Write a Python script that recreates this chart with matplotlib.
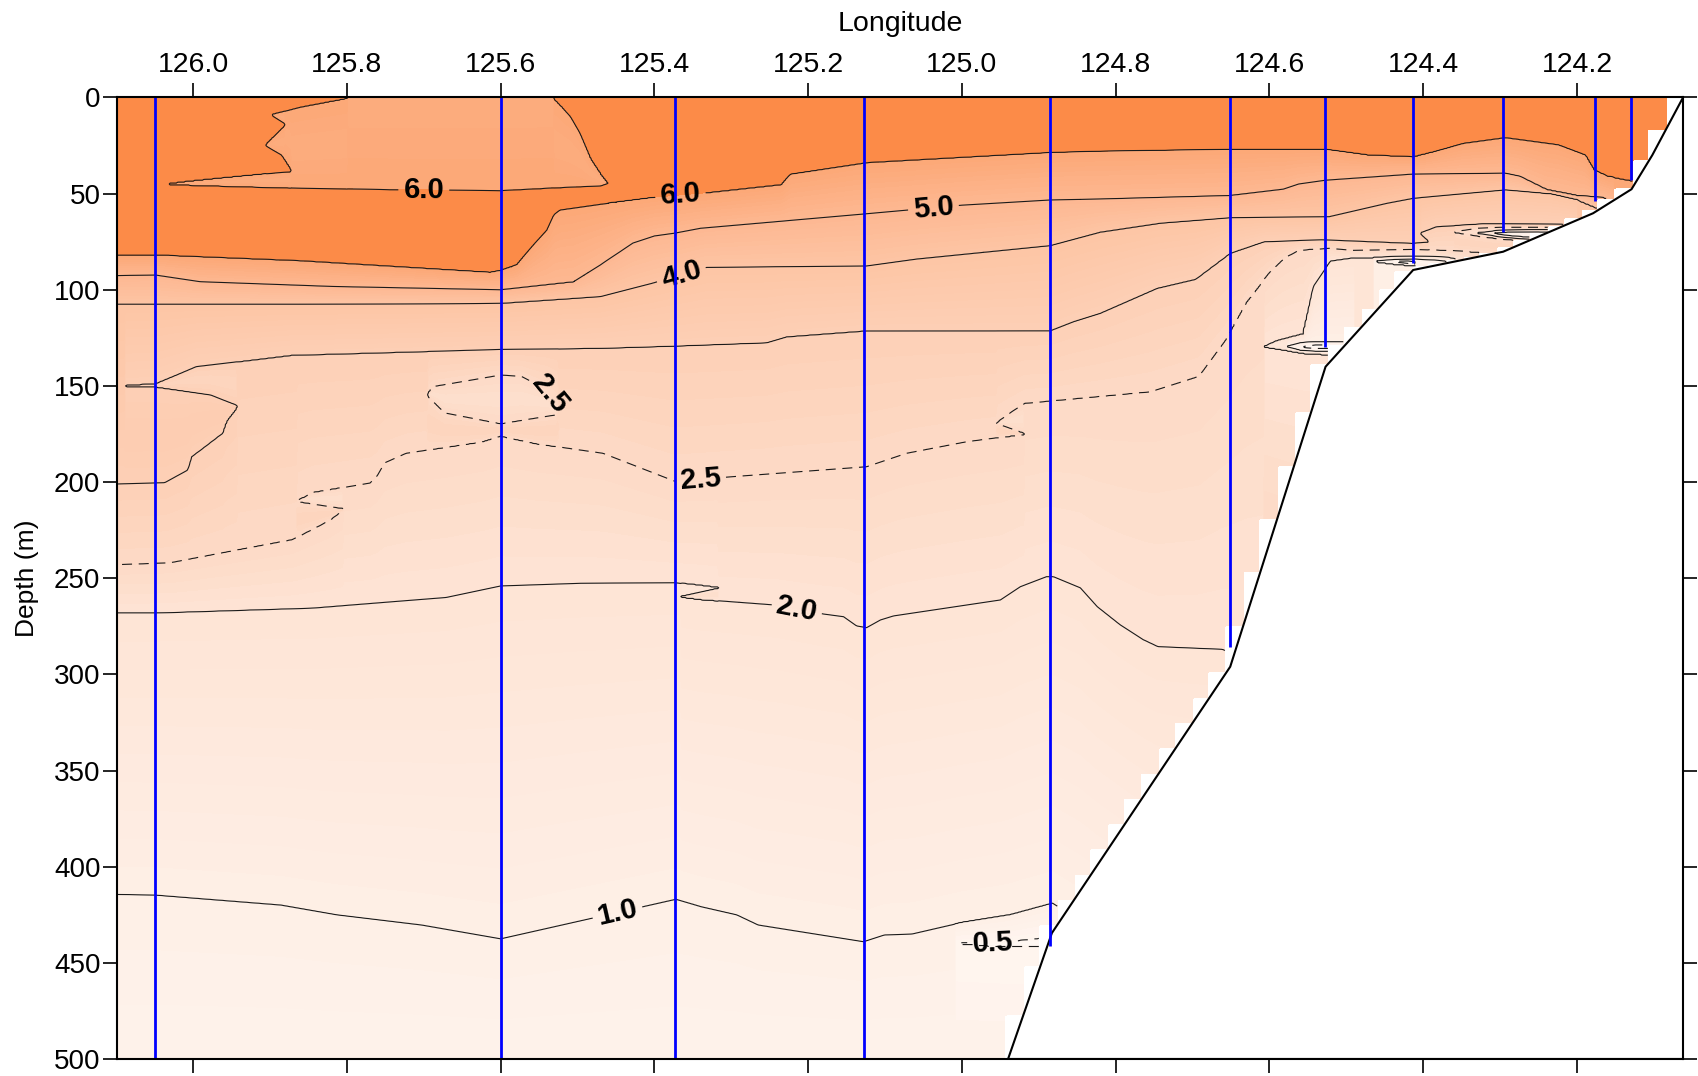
import numpy as np
import matplotlib
matplotlib.use("Agg")
import matplotlib.pyplot as plt
from matplotlib.colors import LinearSegmentedColormap
from matplotlib.ticker import FormatStrFormatter

plt.rcParams['font.family'] = ['Liberation Sans', 'DejaVu Sans']

# CTD stations (longitude, cast depth in m)
station_lon = [126.049, 125.600, 125.373, 125.128, 124.885, 124.651, 124.528, 124.413, 124.296, 124.177, 124.130]
station_depth = [500, 500, 500, 500, 441, 286, 130, 86, 70, 54, 43]

# bottom topography
bathy_lon = [124.940, 124.883, 124.651, 124.527, 124.413, 124.296, 124.179, 124.129, 124.102, 124.062]
bathy_depth = [500, 434.5, 296, 140, 89.7, 80.2, 60.2, 47.7, 30, 0]

# isolines: depth (m) at longitude nodes
iso60_lon = [126.10, 126.049, 125.861, 125.614, 125.600, 125.579, 125.558, 125.540, 125.531, 125.523,
             125.470, 125.400, 125.331, 125.235, 125.223, 125.123, 124.885, 124.820, 124.651, 124.527,
             124.472, 124.413, 124.383, 124.348, 124.293, 124.224, 124.189, 124.178, 124.160, 124.132, 124.115]
iso60_dep = [82, 82, 85, 91, 90, 87, 77, 69, 61, 58.5,
             55.5, 52, 49.7, 45.5, 40, 34, 28.7, 28, 27, 27,
             30, 31, 28, 24, 21, 24.7, 30, 37.7, 41, 43, 45]

# closed 6.0 pocket at the surface (lower values inside)
pocket_bot_lon = [126.032, 126.0, 125.95, 125.86, 125.744, 125.60, 125.47, 125.461]
pocket_bot_dep = [45, 45.6, 46.2, 47.2, 48, 48.5, 46, 44.6]
pocket_w1_lon = [125.80, 125.861, 125.898]
pocket_w1_dep = [0.3, 5, 9]
pocket_w2_lon = [125.880, 125.898]
pocket_w2_dep = [14, 9]
pocket_w3_lon = [125.880, 125.906]
pocket_w3_dep = [14, 25]
pocket_w4_lon = [125.872, 125.885, 125.906]
pocket_w4_dep = [38.5, 30, 25]
pocket_tongue_lon = [125.872, 125.95, 126.0, 126.032]
pocket_tongue_dep = [38.5, 41.5, 43.5, 45]
pocket_east_lon = [125.461, 125.47, 125.483, 125.497, 125.509, 125.52, 125.531]
pocket_east_dep = [44.6, 40, 32, 18.5, 10, 5, 0.3]

iso50_lon = [126.10, 126.049, 125.991, 125.818, 125.60, 125.506, 125.47, 125.428, 125.40, 125.373,
             125.34, 125.128, 125.0, 124.885, 124.82, 124.651, 124.582, 124.562, 124.527, 124.413,
             124.293, 124.274, 124.239, 124.20, 124.165, 124.15]
iso50_dep = [92.6, 92.3, 95.8, 98.3, 100, 96, 87, 75.7, 72, 70.5,
             68, 60.6, 56, 53.3, 52.8, 51, 47.7, 45, 43, 39.8,
             39.4, 41, 48, 51, 52, 54]

iso40_lon = [126.10, 125.861, 125.60, 125.47, 125.403, 125.332, 125.124, 125.059, 124.885, 124.82,
             124.741, 124.651, 124.522, 124.447, 124.413, 124.293, 124.233, 124.20, 124.165]
iso40_dep = [107.5, 107.5, 107, 103.5, 96.6, 88.3, 87.6, 84, 77, 70,
             65.3, 62.5, 62, 55, 52.4, 48, 50, 53, 59]

iso30_lon = [126.088, 126.049, 126.021, 125.996, 125.872, 125.60, 125.47, 125.371, 125.254, 125.228,
             125.124, 124.885, 124.855, 124.82, 124.746, 124.696, 124.651, 124.607, 124.532, 124.472,
             124.413, 124.393]
iso30_dep = [150, 149, 144.3, 140, 134, 131, 130.4, 129.2, 127.5, 124.4,
             121.3, 121.3, 116.6, 112.2, 99.2, 94.5, 81, 75, 74, 75,
             76, 75]
iso30_fold_lon = [124.393, 124.404]
iso30_fold_dep = [75, 70.6]
iso30_shelf_lon = [124.404, 124.383, 124.323, 124.20]
iso30_shelf_dep = [70.6, 67.2, 65.8, 66]
# warm bulge on the western edge
bulge_top_lon = [126.088, 126.049, 125.977, 125.942]
bulge_top_dep = [150.1, 150.4, 154.7, 160.4]
bulge_bot_lon = [125.942, 125.957, 125.962, 125.987, 126.002, 126.007, 126.037, 126.10]
bulge_bot_dep = [160.4, 168.6, 174.6, 182.3, 186.8, 193.7, 200.3, 201]

iso25_east_lon = [124.28, 124.343, 124.413, 124.492, 124.522, 124.562, 124.581, 124.601, 124.631, 124.657,
                  124.692, 124.755, 124.885, 124.918, 124.933, 124.955]
iso25_east_dep = [82, 80, 79, 79.5, 78.4, 79.3, 83.6, 91.4, 107, 126,
                  145, 153, 157.8, 159, 163, 169.4]
iso25_fold1_lon = [124.918, 124.955]
iso25_fold1_dep = [175, 169.4]
iso25_mid_lon = [124.918, 124.994, 125.072, 125.124, 125.292, 125.34, 125.374, 125.467, 125.554, 125.60,
                 125.624, 125.723, 125.751, 125.761, 125.77, 125.845, 125.865]
iso25_mid_dep = [175, 179, 185, 192, 197, 198.5, 199.5, 185, 180, 176,
                 179, 185, 190, 197, 200.5, 205.6, 210]
iso25_fold2_lon = [125.804, 125.865]
iso25_fold2_dep = [214, 210]
iso25_west_lon = [125.804, 125.822, 125.871, 125.938, 126.03, 126.10]
iso25_west_dep = [214, 219.7, 230, 235, 242, 243]
loop25_top_lon = [125.696, 125.688, 125.60, 125.573, 125.54, 125.525]
loop25_top_dep = [154.7, 150.4, 144.3, 145, 152, 160]
loop25_bot_lon = [125.696, 125.673, 125.60, 125.528, 125.525]
loop25_bot_dep = [154.7, 164, 169.8, 165, 160]

iso20_lon = [126.10, 126.048, 125.845, 125.671, 125.60, 125.496, 125.374, 125.346, 125.317]
iso20_dep = [268, 268, 265.5, 260, 254, 252.6, 252.3, 253.5, 255]
iso20_fold_lon = [125.317, 125.366]
iso20_fold_dep = [255, 259.6]
iso20_east_lon = [125.366, 125.34, 125.24, 125.18, 125.154, 125.137, 125.124, 125.106, 125.089, 124.95,
                  124.924, 124.89, 124.881, 124.846, 124.824, 124.794, 124.764, 124.745, 124.661, 124.60, 124.52]
iso20_east_dep = [259.6, 261, 264, 268.6, 270, 274.8, 275.7, 271.7, 269.6, 261.3,
                  254.4, 249.2, 249.2, 255, 264.8, 274.3, 282, 285.6, 287, 300, 320]
# cold tongue against the slope
slope20_top_lon = [124.607, 124.59, 124.556, 124.549, 124.543, 124.53, 124.521, 124.495, 124.413, 124.37, 124.34]
slope20_top_dep = [129.6, 126.5, 123, 110, 98.4, 90.6, 85, 83.5, 82.5, 83, 85.5]
slope20_bot_lon = [124.607, 124.555, 124.512, 124.49]
slope20_bot_dep = [129.6, 133, 134, 135]

iso10_lon = [126.10, 126.05, 125.886, 125.813, 125.703, 125.60, 125.539, 125.372, 125.339, 125.293,
             125.265, 125.128, 125.101, 125.065, 125.0, 124.937, 124.882, 124.80, 124.70, 124.60]
iso10_dep = [414.4, 414.7, 419.9, 425, 430.3, 437.5, 432, 416.9, 420.8, 425,
             430.3, 439, 435.5, 435, 429, 425, 419, 440, 470, 490]

iso05_top_lon = [125.01, 124.95, 124.89, 124.86]
iso05_top_dep = [439.8, 439.5, 437, 437]
iso05_bot_lon = [125.01, 124.95, 124.89, 124.86]
iso05_bot_dep = [439.8, 441.5, 441.5, 441.5]

# small cold cores at the bottom of the shelf stations
coreA25_top_lon = [124.36, 124.33, 124.30, 124.26, 124.22]
coreA25_top_dep = [70, 68, 67.5, 67.5, 67.5]
coreA25_bot_lon = [124.36, 124.33, 124.30, 124.27, 124.25]
coreA25_bot_dep = [70, 72, 73.5, 74.5, 74.5]
coreA20_top_lon = [124.33, 124.30, 124.26, 124.22]
coreA20_top_dep = [70.5, 69, 68.8, 68.8]
coreA20_bot_lon = [124.33, 124.30, 124.27, 124.25]
coreA20_bot_dep = [70.5, 72.5, 73.5, 73.8]
coreA10_top_lon = [124.31, 124.29, 124.25, 124.22]
coreA10_top_dep = [70.6, 70, 69.8, 69.8]
coreA10_bot_lon = [124.31, 124.29, 124.27, 124.25]
coreA10_bot_dep = [70.6, 71.8, 72.5, 72.8]

coreB10_top_lon = [124.578, 124.56, 124.54, 124.49]
coreB10_top_dep = [129.5, 127.5, 127, 127]
coreB10_bot_lon = [124.578, 124.56, 124.54, 124.50]
coreB10_bot_dep = [129.5, 131.5, 132, 132]
coreB05_top_lon = [124.56, 124.54, 124.49]
coreB05_top_dep = [129.8, 128.7, 128.7]
coreB05_bot_lon = [124.56, 124.54, 124.50]
coreB05_bot_dep = [129.8, 130.5, 130.5]

coreC10_top_lon = [124.465, 124.44, 124.41, 124.38, 124.355]
coreC10_top_dep = [85.2, 84.2, 84, 84.6, 85.8]
coreC10_bot_lon = [124.465, 124.44, 124.41, 124.39]
coreC10_bot_dep = [85.2, 86.5, 87.5, 88]
coreC05_top_lon = [124.44, 124.42, 124.39, 124.375]
coreC05_top_dep = [85.3, 85, 86.3, 87.2]
coreC05_bot_lon = [124.44, 124.42, 124.40]
coreC05_bot_dep = [85.3, 86.3, 88.9]

# (value, +1 if values above the line are higher, lon, depth[, swing])
isolines = [
    (6.0, 1, iso60_lon, iso60_dep),
    (6.0, -1, pocket_bot_lon, pocket_bot_dep),
    (6.0, 1, pocket_w1_lon, pocket_w1_dep),
    (6.0, -1, pocket_w2_lon, pocket_w2_dep),
    (6.0, 1, pocket_w3_lon, pocket_w3_dep),
    (6.0, -1, pocket_w4_lon, pocket_w4_dep),
    (6.0, 1, pocket_tongue_lon, pocket_tongue_dep),
    (6.0, 1, pocket_east_lon, pocket_east_dep),
    (5.0, 1, iso50_lon, iso50_dep),
    (4.0, 1, iso40_lon, iso40_dep),
    (3.0, 1, iso30_lon, iso30_dep),
    (3.0, -1, iso30_fold_lon, iso30_fold_dep),
    (3.0, 1, iso30_shelf_lon, iso30_shelf_dep),
    (3.0, -1, bulge_top_lon, bulge_top_dep),
    (3.0, 1, bulge_bot_lon, bulge_bot_dep),
    (2.5, 1, iso25_east_lon, iso25_east_dep),
    (2.5, -1, iso25_fold1_lon, iso25_fold1_dep),
    (2.5, 1, iso25_mid_lon, iso25_mid_dep),
    (2.5, -1, iso25_fold2_lon, iso25_fold2_dep),
    (2.5, 1, iso25_west_lon, iso25_west_dep),
    (2.5, 1, loop25_top_lon, loop25_top_dep),
    (2.5, -1, loop25_bot_lon, loop25_bot_dep),
    (2.0, 1, iso20_lon, iso20_dep),
    (2.0, -1, iso20_fold_lon, iso20_fold_dep),
    (2.0, 1, iso20_east_lon, iso20_east_dep),
    (2.0, 1, slope20_top_lon, slope20_top_dep),
    (2.0, -1, slope20_bot_lon, slope20_bot_dep, 0.45),
    (1.0, 1, iso10_lon, iso10_dep),
    (0.5, 1, iso05_top_lon, iso05_top_dep),
    (0.5, -1, iso05_bot_lon, iso05_bot_dep),
    (2.5, 1, coreA25_top_lon, coreA25_top_dep),
    (2.5, -1, coreA25_bot_lon, coreA25_bot_dep),
    (2.0, 1, coreA20_top_lon, coreA20_top_dep),
    (2.0, -1, coreA20_bot_lon, coreA20_bot_dep),
    (1.0, 1, coreA10_top_lon, coreA10_top_dep),
    (1.0, -1, coreA10_bot_lon, coreA10_bot_dep),
    (1.0, 1, coreB10_top_lon, coreB10_top_dep),
    (1.0, -1, coreB10_bot_lon, coreB10_bot_dep),
    (0.5, 1, coreB05_top_lon, coreB05_top_dep),
    (0.5, -1, coreB05_bot_lon, coreB05_bot_dep),
    (1.0, 1, coreC10_top_lon, coreC10_top_dep),
    (1.0, -1, coreC10_bot_lon, coreC10_bot_dep),
    (0.5, 1, coreC05_top_lon, coreC05_top_dep),
    (0.5, -1, coreC05_bot_lon, coreC05_bot_dep),
]

line_levels = [0.5, 1.0, 2.0, 2.5, 3.0, 4.0, 5.0, 6.0]
label_pos = [(125.70, 48.5), (125.366, 51.5), (125.037, 57.5), (125.366, 91), (125.54, 156),
             (125.34, 199), (125.215, 266.5), (125.448, 424), (124.96, 440)]

# --- grid the section column by column from the isolines ---
DELTA = 0.3
lon_grid = np.linspace(124.05, 126.11, 1031)
dep_grid = np.linspace(0, 500, 1001)
field = np.zeros((len(dep_grid), len(lon_grid)))
for j, x in enumerate(lon_grid):
    knots = []
    for iso in isolines:
        v, s, lons, deps = iso[:4]
        dl = iso[4] if len(iso) > 4 else DELTA
        lons = np.asarray(lons)
        deps = np.asarray(deps)
        order = np.argsort(lons)
        if lons.min() <= x <= lons.max():
            knots.append((np.interp(x, lons[order], deps[order]), v, s, dl))
    knots.sort()
    clean = []
    for k in knots:
        # a closed line pinched to zero thickness: drop both ends
        if clean and clean[-1][1] == k[1] and clean[-1][2] != k[2] and abs(clean[-1][0] - k[0]) < 0.05:
            clean.pop()
            continue
        clean.append(k)
    knots = clean
    if not knots:
        field[:, j] = 6.0 + DELTA
        continue
    zs = [0.0]
    vs = [knots[0][1] + knots[0][2] * DELTA]
    for i, (d, v, s, dl) in enumerate(knots):
        if i > 0 and knots[i - 1][1] == v:
            pd, pv, ps, pdl = knots[i - 1]
            zs.append(0.5 * (pd + d))
            vs.append(pv - ps * pdl)
        zs.append(d)
        vs.append(v)
    zs.append(500.0)
    vs.append(knots[-1][1] - knots[-1][2] * knots[-1][3])
    field[:, j] = np.interp(dep_grid, zs, vs)

# blank below the bottom with Surfer-like steps
bl = np.array(bathy_lon[::-1])
bd = np.array(bathy_depth[::-1])
cell = 0.022
east_edge = bl[0] + np.floor((lon_grid - bl[0]) / cell) * cell
limit = np.interp(east_edge, bl, bd)
LON, DEP = np.meshgrid(lon_grid, dep_grid)
field = np.ma.masked_where(DEP > limit[None, :], field)

# colours
cvals = [0.0, 0.5, 1.0, 2.0, 2.5, 3.0, 4.0, 5.0, 6.0]
chex = ['#FFFAF7', '#FFF5EF', '#FEEFE6', '#FEE4D5', '#FDDAC6', '#FDD0B6', '#FDC5A5', '#FDB892', '#FCA877']
cmap = LinearSegmentedColormap.from_list('sect', [(v / 6.0, c) for v, c in zip(cvals, chex)])
fill_levels = list(np.round(np.arange(0, 6.0001, 0.1), 2)) + [10.0]
fill_colors = [cmap(min((a + b) / 2 / 6.0, 1.0)) for a, b in zip(fill_levels[:-2], fill_levels[1:-1])] + ['#FC8B48']

fig = plt.figure(figsize=(16.99, 10.76), dpi=100)
ax = fig.add_axes([0.0689, 0.0158, 0.9217, 0.8936])

ax.contourf(LON, DEP, field, levels=fill_levels, colors=fill_colors, zorder=1)
cs = ax.contour(LON, DEP, field, levels=line_levels, colors='#1a1a1a', linewidths=0.8, zorder=2)
cs.set_linestyles([(0, (9, 6)) if lv in (0.5, 2.5) else 'solid' for lv in line_levels])
labels = ax.clabel(cs, levels=line_levels, manual=label_pos, inline=True, fmt='%.1f',
                   fontsize=21, colors='black')
for t in labels:
    t.set_fontweight('bold')

ax.fill(bathy_lon + [124.0, 124.0, bathy_lon[0]], bathy_depth + [0, 500, 500],
        facecolor='white', edgecolor='black', linewidth=1.5, zorder=3)
ax.vlines(station_lon, 0, station_depth, colors='#0000FF', linewidth=2.0, zorder=4)

ax.set_xlim(126.099, 124.062)
ax.set_ylim(500, 0)
ax.set_xticks([126.0, 125.8, 125.6, 125.4, 125.2, 125.0, 124.8, 124.6, 124.4, 124.2])
ax.xaxis.set_major_formatter(FormatStrFormatter('%.1f'))
ax.set_yticks(range(0, 501, 50))
ax.tick_params(axis='x', top=True, bottom=True, labeltop=True, labelbottom=False,
               direction='out', length=10, width=1.2, pad=4, labelsize=20.5)
ax.tick_params(axis='y', left=True, right=True, labelleft=True,
               direction='out', length=10, width=1.2, pad=2, labelsize=20)
ax.xaxis.set_label_position('top')
ax.set_xlabel('Longitude', fontsize=20.5, labelpad=15)
ax.set_ylabel('Depth (m)', fontsize=19, labelpad=11)
for sp in ax.spines.values():
    sp.set_linewidth(1.5)
    sp.set_zorder(5)

fig.savefig('out.png', dpi=100)
